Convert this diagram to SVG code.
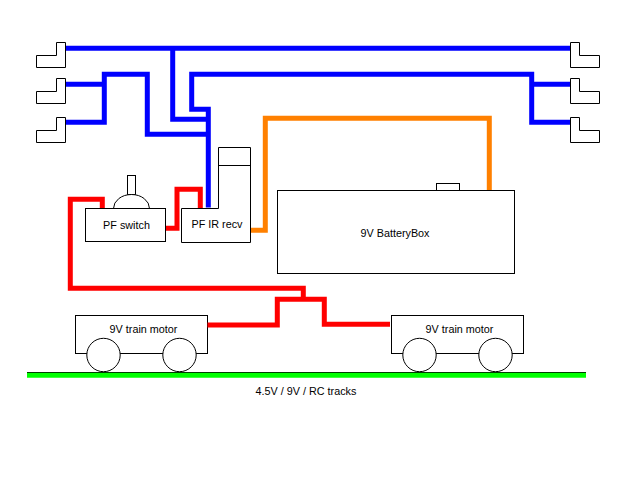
<svg xmlns="http://www.w3.org/2000/svg" width="640" height="480" viewBox="0 0 640 480">
<style>
.o{fill:#fff;stroke:#000;stroke-width:1}
.w{fill:none;stroke-width:5;stroke-linejoin:miter;stroke-linecap:butt}
.b{stroke:#0000ff}.r{stroke:#ff0000}.n{stroke:#ff8000}
text{font-family:"Liberation Sans",Arial,sans-serif;font-size:10.8px;fill:#000;text-anchor:middle}
</style>
<rect width="640" height="480" fill="#fff"/>
<g id="track">
<line x1="27" y1="372.5" x2="586" y2="372.5" stroke="#000" stroke-width="1"/>
<line x1="27" y1="375.3" x2="586" y2="375.3" stroke="#00ff00" stroke-width="5"/>
<text x="306" y="395">4.5V / 9V / RC tracks</text>
</g>
<g id="conn-l1"><polygon class="o" points="36.5,55.5 56.5,55.5 56.5,42.5 65.5,42.5 65.5,67.5 36.5,67.5"/></g>
<g id="conn-l2"><polygon class="o" points="36.5,91.5 56.5,91.5 56.5,78.5 65.5,78.5 65.5,103.5 36.5,103.5"/></g>
<g id="conn-l3"><polygon class="o" points="36.5,130.5 56.5,130.5 56.5,117.5 65.5,117.5 65.5,142.5 36.5,142.5"/></g>
<g id="conn-r1"><polygon class="o" points="570.5,42.5 579.5,42.5 579.5,55.5 599.5,55.5 599.5,67.5 570.5,67.5"/></g>
<g id="conn-r2"><polygon class="o" points="570.5,78.5 579.5,78.5 579.5,91.5 599.5,91.5 599.5,103.5 570.5,103.5"/></g>
<g id="conn-r3"><polygon class="o" points="570.5,117.5 579.5,117.5 579.5,130.5 599.5,130.5 599.5,142.5 570.5,142.5"/></g>
<g id="pf-switch">
<rect class="o" x="127.5" y="175.5" width="8" height="19"/>
<path class="o" d="M113.5 208.5A18 14 0 0 1 149.5 208.5"/>
<rect class="o" x="85.5" y="208.5" width="80" height="33"/>
<text x="126.5" y="229">PF switch</text>
</g>
<g id="pf-ir-recv">
<polygon class="o" points="181.5,208.5 218.5,208.5 218.5,147.5 250.5,147.5 250.5,242.5 181.5,242.5"/>
<line class="o" x1="218.5" y1="165.5" x2="250.5" y2="165.5"/>
<text x="217" y="228">PF IR recv</text>
</g>
<g id="battery-box">
<rect class="o" x="436.5" y="183.5" width="23" height="7"/>
<rect class="o" x="277.5" y="190.5" width="237" height="83"/>
<text x="395" y="236.5">9V BatteryBox</text>
</g>
<g id="motor-left">
<rect class="o" x="75.5" y="315.5" width="132" height="38"/>
<circle class="o" cx="103.5" cy="355" r="16.7"/>
<circle class="o" cx="179.5" cy="355" r="16.7"/>
<text x="143.5" y="333">9V train motor</text>
</g>
<g id="motor-right">
<rect class="o" x="391.5" y="315.5" width="132" height="38"/>
<circle class="o" cx="419.5" cy="355" r="16.7"/>
<circle class="o" cx="495.5" cy="355" r="16.7"/>
<text x="459.5" y="333">9V train motor</text>
</g>
<g id="connectors">
<path class="w b" d="M66 48.3H570"/>
<path class="w b" d="M66 84.3H104.3M66 122.3H104.3M104.3 124.8V74.3H147.3V134.3H208.3"/>
<path class="w b" d="M172.7 48.3V119.3H208.3"/>
<path class="w b" d="M208.3 207.5V109.3H191.7V74.3H531.7V124.8M531.7 84.3H570M531.7 122.3H570"/>
<path class="w r" d="M102.3 208V199.3H70.3V288.3H303.3V299.3"/>
<path class="w r" d="M207.5 325H277.3V299.3H324.3V324.3H390"/>
<path class="w r" d="M166 228.3H177V189.3H200.3V208"/>
<path class="w n" d="M251 230.3H265.3V118.3H489.3V190"/>
</g>
</svg>
